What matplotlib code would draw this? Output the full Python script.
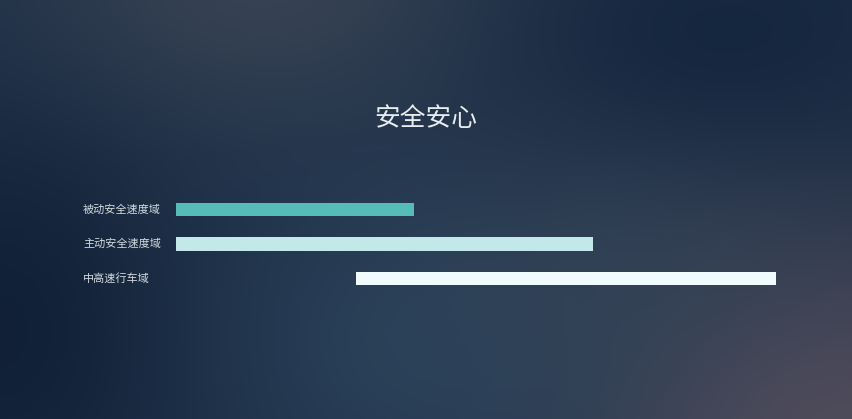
import numpy as np
import matplotlib
matplotlib.use('Agg')
import matplotlib.pyplot as plt
import matplotlib.transforms as mtransforms

plt.rcParams['font.family'] = ['Noto Sans CJK SC', 'DejaVu Sans']

# 数据 (速度域, 估计值)
labels = ['被动安全速度域', '主动安全速度域', '中高速行车域']
starts = [0, 0, 30]
ends = [39.7, 69.5, 100.2]
colors = ['#55bcb8', '#c3e8ea', '#effbfc']
title = '安全安心'

W, H = 852, 419
fig = plt.figure(figsize=(W / 100, H / 100), dpi=100)

# 背景渐变
bg_ax = fig.add_axes([0, 0, 1, 1])
yy, xx = np.mgrid[0:H, 0:W]
img = np.zeros((H, W, 3))
img[:] = np.array([0x1c, 0x2e, 0x46]) / 255.0

def blob(cx, cy, sx, sy, col, strength):
    g = np.exp(-(((xx - cx) / sx) ** 2 + ((yy - cy) / sy) ** 2))[..., None] * strength
    return g, np.array(col) / 255.0

for cx, cy, sx, sy, col, s in [
    (260, -20, 260, 160, (0x3c, 0x46, 0x56), 0.85),
    (820, 420, 300, 210, (0x50, 0x4b, 0x5a), 1.0),
    (430, 340, 220, 170, (0x2b, 0x44, 0x5c), 0.85),
    (0, 330, 160, 200, (0x10, 0x1f, 0x35), 0.9),
    (720, 40, 200, 120, (0x13, 0x25, 0x3d), 0.8),
    (620, 280, 200, 120, (0x35, 0x44, 0x57), 0.6),
]:
    g, c = blob(cx, cy, sx, sy, col, s)
    img = img * (1 - g) + c * g

bg_ax.imshow(img, extent=[0, 1, 0, 1], aspect='auto', origin='upper')
bg_ax.axis('off')

# 标题
fig.text(0.5, 1 - 119 / H, title, ha='center', va='center', fontsize=18.5,
         color='#e6ecf0', fontweight='light')

# 条形图
ax = fig.add_axes([176 / W, 1 - 313 / H, 600 / W, 138 / H])
ax.patch.set_alpha(0)
y = np.arange(len(labels))
widths = [e - s for s, e in zip(starts, ends)]
ax.barh(y, widths, left=starts, height=0.38, color=colors)
ax.set_xlim(0, 100)
ax.set_ylim(3, -1)
ax.axis('off')

trans = mtransforms.blended_transform_factory(fig.transFigure, ax.transData)
for i, lab in enumerate(labels):
    ax.text(83 / W, i, lab, transform=trans, ha='left', va='center',
            fontsize=8, color='#d3d9df')

fig.savefig('out.png', dpi=100)
